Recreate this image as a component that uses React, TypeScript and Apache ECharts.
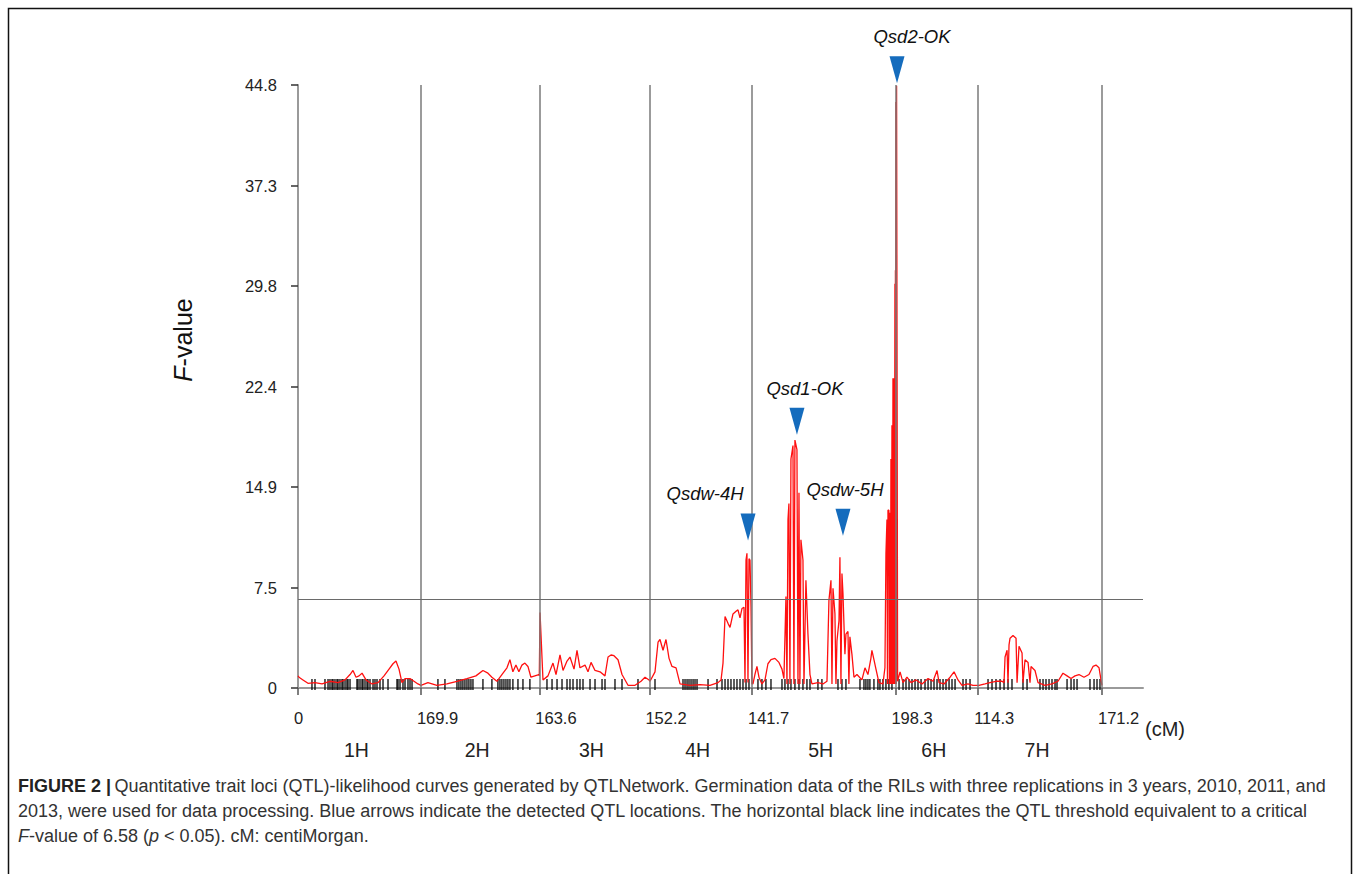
import React, { useEffect, useRef } from "react";
import * as echarts from "echarts";

// ---------- data ----------
const chromNames = ["1H", "2H", "3H", "4H", "5H", "6H", "7H"];
const chromLengths = [169.9, 163.6, 152.2, 141.7, 198.3, 114.3, 171.2];
const xTickLabels = ["0", "169.9", "163.6", "152.2", "141.7", "198.3", "114.3", "171.2"];
const threshold = 6.58;

// F-value curves, local cM position per chromosome
const chr1Pos = [0, 1.4, 6.9, 13.8, 23.5, 33.2, 44.2, 55.3, 65.0, 71.9, 76.0, 80.2, 84.3, 88.5, 94.0, 102.3, 110.6, 118.9, 125.8, 131.3, 135.4, 139.6, 143.7, 147.9, 154.8, 160.3, 165.8, 169.9];
const chr1F = [0.9, 0.8, 0.6, 0.35, 0.4, 0.3, 0.5, 0.4, 0.6, 1.0, 1.3, 0.8, 0.9, 1.1, 0.6, 0.3, 0.4, 0.9, 1.4, 1.8, 2.0, 1.4, 0.4, 0.7, 0.7, 0.5, 0.3, 0.2];

const chr2Pos = [0, 9.7, 22.1, 35.9, 49.8, 63.6, 76.0, 85.7, 92.6, 98.1, 105.0, 111.9, 118.9, 123.0, 127.1, 131.3, 135.4, 139.6, 143.7, 147.9, 152.0, 157.5, 163.0];
const chr2F = [0.2, 0.4, 0.2, 0.3, 0.5, 0.7, 0.9, 1.3, 1.1, 0.8, 0.5, 1.0, 1.5, 2.1, 1.2, 1.7, 1.2, 1.7, 1.85, 1.6, 0.8, 0.9, 1.0];

const chr3Pos = [0, 1.0, 2.3, 5.1, 12.0, 18.9, 23.1, 28.6, 32.8, 38.3, 42.4, 48.0, 52.1, 56.2, 63.2, 67.3, 71.5, 77.0, 83.9, 90.8, 95.0, 99.1, 103.2, 108.8, 114.3, 122.6, 132.3, 140.6, 146.1, 151.7];
const chr3F = [0.9, 5.6, 4.0, 0.6, 0.9, 1.85, 1.0, 2.45, 1.3, 2.0, 2.3, 1.4, 2.8, 1.5, 1.7, 1.2, 1.9, 1.3, 1.2, 0.9, 2.3, 2.45, 2.4, 2.1, 1.0, 0.2, 0.2, 0.5, 0.8, 0.6];

const chr4Pos = [0.8, 7.7, 11.9, 14.6, 18.8, 22.9, 27.1, 31.2, 36.8, 42.3, 56.1, 69.9, 83.7, 94.8, 99.0, 101.7, 104.5, 108.6, 111.4, 115.5, 119.7, 122.4, 125.2, 127.9, 130.7, 132.1, 133.5, 134.8, 136.2, 137.6, 139.0, 140.4, 141.7];
const chr4F = [0.5, 1.2, 3.4, 3.6, 2.8, 3.6, 2.2, 1.6, 1.5, 0.3, 0.2, 0.25, 0.2, 0.4, 0.6, 1.85, 5.3, 4.8, 4.5, 5.5, 5.7, 5.8, 5.2, 5.9, 6.0, 0.4, 9.5, 10.0, 0.4, 9.6, 9.5, 6.0, 0.3];

const chr5Pos = [1.4, 4.1, 6.9, 9.7, 13.8, 18.0, 22.1, 26.3, 31.8, 37.3, 41.5, 44.2, 47.0, 48.4, 49.8, 51.1, 52.5, 53.9, 56.7, 58.0, 59.4, 62.2, 63.6, 65.0, 66.3, 67.7, 70.5, 71.9, 74.6, 77.4, 80.2, 82.9, 91.2, 98.1, 103.7, 106.4, 109.2, 110.6, 112.0, 114.7, 116.1, 117.5, 120.3, 121.6, 123.0, 124.4, 125.8, 128.5, 129.9, 132.7, 134.0, 135.4, 138.2, 141.0, 145.1, 152.0, 156.2, 160.3, 164.4, 165.8, 168.6, 171.4, 175.5, 181.0, 183.8, 185.2, 186.6, 187.3, 188.0, 189.3, 190.0, 190.7, 191.4, 192.1, 192.8, 193.5, 194.2, 194.9, 195.5, 196.2, 196.9, 197.6, 198.0, 198.3];
const chr5F = [0.3, 1.0, 1.6, 0.8, 0.3, 0.6, 1.8, 2.1, 2.2, 1.9, 1.4, 0.7, 6.8, 0.3, 12.5, 13.7, 0.3, 17.0, 18.0, 0.3, 18.4, 17.7, 0.3, 14.5, 0.3, 11.0, 9.5, 0.3, 8.0, 4.0, 1.0, 0.3, 0.4, 0.3, 0.5, 6.5, 8.0, 0.3, 7.4, 5.5, 0.3, 3.5, 5.0, 9.7, 0.3, 8.5, 7.0, 2.5, 4.0, 4.2, 0.3, 3.8, 2.5, 0.8, 1.0, 0.6, 1.5, 1.0, 2.2, 2.8, 2.1, 1.4, 0.4, 0.3, 1.5, 10.0, 12.5, 0.3, 13.2, 13.2, 0.3, 13.0, 0.3, 17.0, 0.3, 19.5, 0.3, 23.0, 0.3, 23.0, 0.3, 30.0, 0.3, 31.0];

const chr6Pos = [0.3, 0.6, 1.1, 1.6, 2.2, 3.0, 6.4, 10.5, 16.0, 21.6, 28.5, 36.8, 45.1, 52.0, 57.5, 60.3, 67.2, 75.5, 81.0, 86.5, 92.0, 100.3, 107.2, 114.3];
const chr6F = [0.3, 43.5, 0.3, 44.7, 44.7, 0.5, 1.2, 0.4, 0.8, 0.4, 0.6, 0.3, 0.7, 0.5, 1.3, 0.4, 0.3, 0.8, 1.2, 0.6, 0.2, 0.3, 0.2, 0.2];

const chr7Pos = [1.2, 9.5, 16.4, 24.7, 33.0, 35.8, 37.2, 40.0, 41.3, 42.7, 44.1, 48.2, 52.4, 53.8, 56.5, 60.7, 62.0, 64.8, 69.0, 71.7, 73.1, 78.6, 82.8, 92.5, 102.1, 110.4, 117.3, 122.9, 128.4, 133.9, 139.4, 146.3, 153.2, 158.8, 162.9, 167.1, 169.8, 171.2];
const chr7F = [0.2, 0.3, 0.4, 0.5, 0.5, 0.4, 2.3, 2.8, 0.4, 3.2, 3.7, 3.9, 3.7, 0.4, 3.1, 2.6, 0.4, 2.1, 1.9, 0.4, 1.6, 1.3, 0.4, 0.2, 0.3, 0.5, 1.1, 0.9, 0.7, 0.9, 1.0, 0.8, 1.0, 1.6, 1.7, 1.5, 0.6, 0.2];

// marker (rug) positions, local cM
const chr1Markers = [19.3, 23.5, 37.3, 41.5, 44.2, 47.0, 48.4, 51.1, 53.9, 55.3, 58.0, 60.8, 62.2, 65.0, 67.7, 69.1, 71.9, 81.5, 82.9, 85.7, 88.5, 89.8, 92.6, 95.4, 96.7, 99.5, 103.7, 106.4, 109.2, 113.3, 117.5, 124.4, 136.8, 138.2, 141.0, 145.1, 147.9, 152.0, 154.8, 157.6];
const chr2Markers = [23.5, 33.2, 49.8, 52.5, 55.3, 58.0, 60.8, 63.6, 66.3, 69.1, 71.9, 85.7, 98.1, 106.4, 109.2, 111.9, 114.7, 117.5, 120.2, 123.0, 127.1, 134.1, 141.0, 150.6];
const chr3Markers = [10.6, 17.6, 24.5, 31.4, 38.3, 42.4, 46.6, 52.1, 56.2, 60.4, 70.1, 77.0, 86.7, 90.8, 104.6, 114.3, 136.4];
const chr4Markers = [7.7, 46.4, 49.2, 52.0, 54.7, 57.5, 60.3, 63.0, 65.8, 81.0, 93.4, 100.3, 104.5, 108.6, 112.7, 116.9, 121.0, 125.2, 129.3, 133.5, 137.6];
const chr5Markers = [8.3, 13.8, 19.3, 26.3, 41.5, 45.6, 49.8, 53.9, 59.4, 65.0, 70.5, 76.0, 80.2, 91.2, 96.7, 118.9, 124.4, 129.9, 149.3, 154.8, 157.5, 160.3, 163.0, 168.6, 174.1, 176.9, 181.0, 185.2, 189.3, 193.5];
const chr6Markers = [5.0, 10.5, 14.6, 18.8, 22.9, 27.1, 31.2, 35.4, 40.9, 45.1, 49.2, 53.3, 57.5, 61.6, 65.8, 69.9, 74.1, 78.2, 82.4, 93.4, 97.6, 103.1];
const chr7Markers = [13.7, 19.2, 24.7, 30.3, 35.8, 41.3, 46.8, 62.0, 67.6, 85.5, 89.7, 93.8, 98.0, 102.1, 106.3, 109.0, 122.9, 128.4, 132.5, 136.7, 154.6, 160.2, 164.3, 168.4];

// detected QTLs: name, chromosome index, local cM, F at arrow
const qtlNames = ["Qsdw-4H", "Qsd1-OK", "Qsdw-5H", "Qsd2-OK"];
const qtlChrom = [3, 4, 4, 5];
const qtlPos = [136.3, 62.2, 125.8, 2.2];
const qtlArrowF = [11.96, 19.8, 12.3, 45.9];

const FONT = "'Liberation Sans', Arial, Helvetica, sans-serif";

export default function App() {
  const ref = useRef<HTMLDivElement>(null);

  useEffect(() => {
    if (!ref.current) return;
    const chart = echarts.init(ref.current, undefined, { renderer: "svg" });

    const offsets: number[] = [0];
    chromLengths.forEach((l, i) => offsets.push(+(offsets[i] + l).toFixed(1)));
    const total = offsets[offsets.length - 1];

    const posArrs = [chr1Pos, chr2Pos, chr3Pos, chr4Pos, chr5Pos, chr6Pos, chr7Pos];
    const fArrs = [chr1F, chr2F, chr3F, chr4F, chr5F, chr6F, chr7F];
    const markerArrs = [chr1Markers, chr2Markers, chr3Markers, chr4Markers, chr5Markers, chr6Markers, chr7Markers];

    const curve: number[][] = [];
    posArrs.forEach((arr, c) => arr.forEach((p, i) => curve.push([offsets[c] + p, fArrs[c][i]])));
    const rug: number[][] = [];
    markerArrs.forEach((arr, c) => arr.forEach((p) => rug.push([offsets[c] + p, 0.26])));

    const labelOffsets = [[-43, 0], [8, 0], [2, 0], [15, 0]];
    const qtlData = qtlNames.map((n, i) => ({
      name: n,
      value: [offsets[qtlChrom[i]] + qtlPos[i], qtlArrowF[i]],
      label: { offset: labelOffsets[i] },
    }));

    const xMax = total * 845 / 804;

    chart.setOption({
      animation: false,
      textStyle: { fontFamily: FONT },
      grid: { left: 298, top: 85, width: 845, height: 603, containLabel: false },
      xAxis: {
        type: "value",
        min: 0,
        max: xMax,
        splitLine: { show: false },
        axisLine: { show: true, lineStyle: { color: "#9a9a9a", width: 2 } },
        axisTick: { show: true, customValues: offsets, length: 7, lineStyle: { color: "#555", width: 1.5 } },
        axisLabel: {
          customValues: offsets,
          formatter: (v: number) => {
            let best = 0;
            offsets.forEach((o, i) => { if (Math.abs(o - v) < Math.abs(offsets[best] - v)) best = i; });
            return xTickLabels[best];
          },
          align: "left",
          padding: [0, 0, 0, -4],
          margin: 21,
          fontSize: 16.5,
          color: "#222",
          fontFamily: FONT,
        },
      },
      yAxis: {
        type: "value",
        min: 0,
        max: 44.76,
        interval: 7.46,
        splitLine: { show: false },
        axisLine: { show: true, lineStyle: { color: "#9a9a9a", width: 2 } },
        axisTick: { show: true, length: 7, lineStyle: { color: "#333", width: 1.5 } },
        axisLabel: {
          formatter: (v: number) => (v === 0 ? "0" : v.toFixed(1)),
          margin: 21,
          fontSize: 16.5,
          color: "#222",
          fontFamily: FONT,
        },
      },
      series: [
        {
          type: "scatter",
          data: rug,
          symbol: "rect",
          symbolSize: [1.5, 11],
          itemStyle: { color: "#000", opacity: 0.85 },
          silent: true,
          z: 2,
        },
        {
          type: "line",
          data: curve,
          showSymbol: false,
          symbol: "none",
          lineStyle: { color: "#ff1010", width: 1.3 },
          z: 3,
          markLine: {
            silent: true,
            symbol: "none",
            label: { show: false },
            data: [
              ...offsets.slice(1).map((o) => ({ xAxis: o, lineStyle: { color: "#7a7a7a", width: 1.5, type: "solid" } })),
              { yAxis: threshold, lineStyle: { color: "#6a6a6a", width: 1.2, type: "solid" } },
            ],
          },
        },
        {
          type: "scatter",
          data: qtlData,
          symbol: "triangle",
          symbolRotate: 180,
          symbolSize: [15, 27],
          itemStyle: { color: "#156cbd", opacity: 1 },
          clip: false,
          z: 10,
          label: {
            show: true,
            formatter: "{b}",
            position: "top",
            distance: 10,
            fontStyle: "italic",
            fontSize: 18.5,
            color: "#111",
            fontFamily: FONT,
          },
        },
      ],
    });

    const centers = chromLengths.map((l, i) => offsets[i] + l / 2);
    const chromTexts = chromNames.map((n, i) => {
      const px = chart.convertToPixel({ xAxisIndex: 0 }, centers[i]) as number;
      return {
        type: "text",
        x: px - 3,
        y: 750,
        style: { text: n, fontSize: 19.5, fill: "#222", align: "center", verticalAlign: "middle", fontFamily: FONT },
      };
    });

    const capStyle = { fontSize: 18, fontFamily: FONT, fill: "#333" };
    chart.setOption({
      graphic: [
        {
          type: "rect",
          shape: { x: 8.5, y: 8.5, width: 1343, height: 900 },
          style: { fill: "none", stroke: "#111", lineWidth: 1.5 },
          silent: true,
        },
        {
          type: "text",
          x: 183,
          y: 340,
          rotation: Math.PI / 2,
          style: {
            text: "{i|F}{n|-value}",
            align: "center",
            verticalAlign: "middle",
            rich: {
              i: { fontStyle: "italic", fontSize: 25, fontFamily: FONT, fill: "#111" },
              n: { fontSize: 25, fontFamily: FONT, fill: "#111" },
            },
          },
        },
        {
          type: "text",
          x: 1145,
          y: 729,
          style: { text: "(cM)", fontSize: 20, fill: "#222", align: "left", verticalAlign: "middle", fontFamily: FONT },
        },
        ...chromTexts,
        {
          type: "text",
          x: 18,
          y: 786,
          style: {
            text: "{b|FIGURE 2 |} {n|Quantitative trait loci (QTL)-likelihood curves generated by QTLNetwork. Germination data of the RILs with three replications in 3 years, 2010, 2011, and}",
            verticalAlign: "middle",
            rich: {
              b: { ...capStyle, fontWeight: "bold", fill: "#222" },
              n: capStyle,
            },
          },
        },
        {
          type: "text",
          x: 18,
          y: 811,
          style: {
            text: "{n|2013, were used for data processing. Blue arrows indicate the detected QTL locations. The horizontal black line indicates the QTL threshold equivalent to a critical}",
            verticalAlign: "middle",
            rich: { n: capStyle },
          },
        },
        {
          type: "text",
          x: 18,
          y: 836,
          style: {
            text: "{i|F}{n|-value of 6.58 (}{i|p}{n| < 0.05). cM: centiMorgan.}",
            verticalAlign: "middle",
            rich: { n: capStyle, i: { ...capStyle, fontStyle: "italic" } },
          },
        },
      ],
    });

    return () => chart.dispose();
  }, []);

  return (
    <div
      ref={ref}
      style={{ position: "fixed", left: 0, top: 0, width: 1360, height: 874, background: "#fff" }}
    />
  );
}
